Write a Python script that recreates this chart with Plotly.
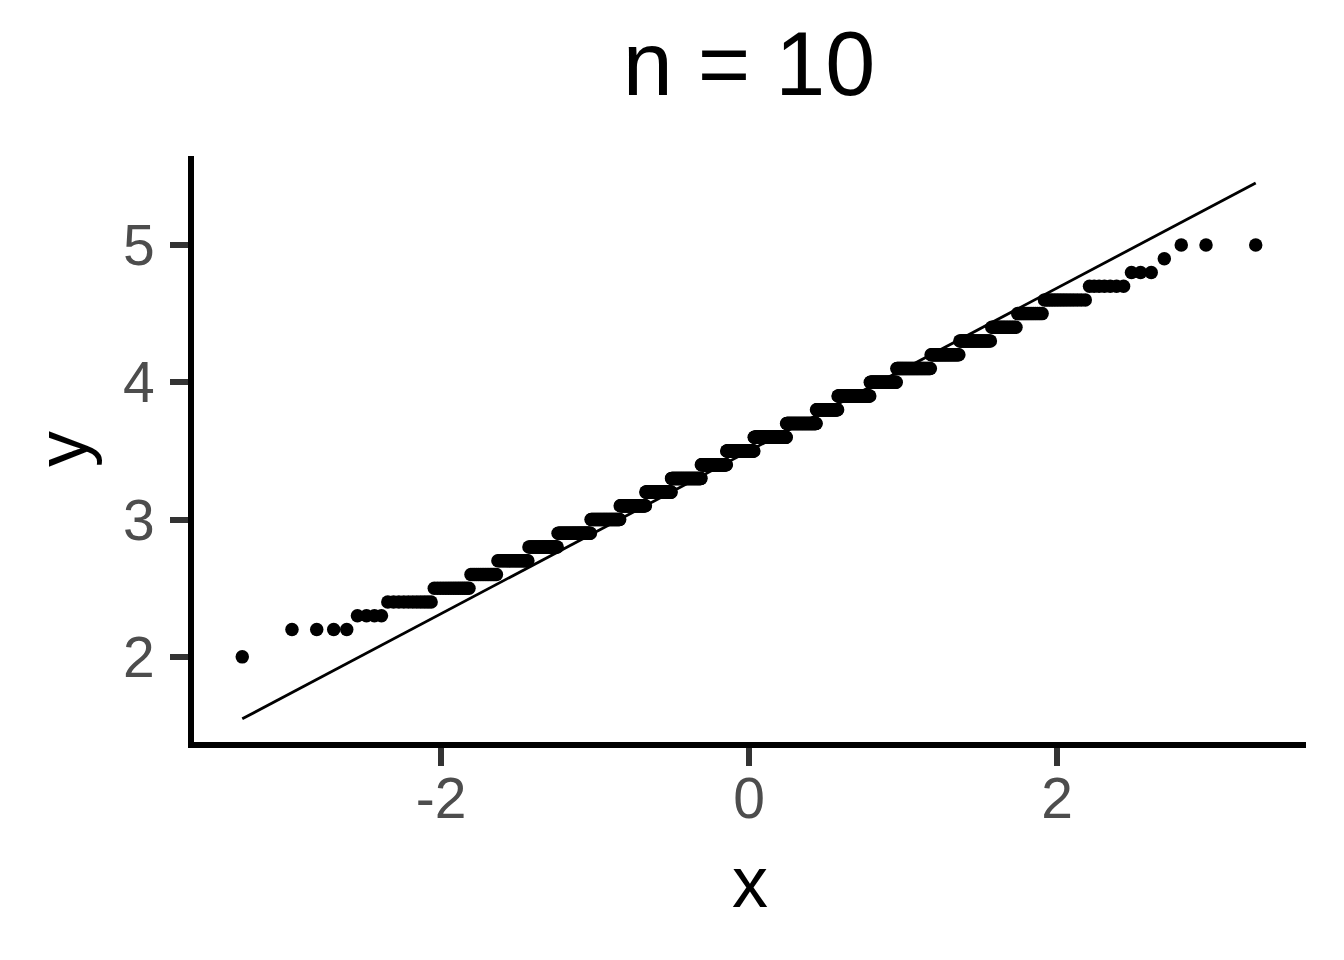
import numpy as np
import plotly.graph_objects as go
from statistics import NormalDist

# Sample-mean levels (y values) and how many of the 1000 sorted sample means fall on each
levels = [2.0, 2.1, 2.2, 2.3, 2.4, 2.5, 2.6, 2.7, 2.8, 2.9, 3.0, 3.1, 3.2, 3.3, 3.4, 3.5,
          3.6, 3.7, 3.8, 3.9, 4.0, 4.1, 4.2, 4.3, 4.4, 4.5, 4.6, 4.7, 4.8, 4.9, 5.0]
counts = [1, 0, 4, 4, 11, 15, 16, 25, 31, 45, 49, 50, 56, 71, 64, 71,
          83, 73, 49, 66, 47, 50, 33, 28, 17, 13, 14, 7, 3, 1, 3]

title_text = "n = 10"
x_ticks = [-2, 0, 2]
y_ticks = [2, 3, 4, 5]

# sample quantiles
y = np.repeat(levels, counts)
n = len(y)
# theoretical normal quantiles, ppoints(n)
nd = NormalDist()
p = (np.arange(1, n + 1) - 0.5) / n
x = np.array([nd.inv_cdf(v) for v in p])

# qq line through the quartiles
q1, q3 = np.quantile(y, [0.25, 0.75])
z1, z3 = nd.inv_cdf(0.25), nd.inv_cdf(0.75)
slope = (q3 - q1) / (z3 - z1)
intercept = q1 - slope * z1
line_x = np.array([x.min(), x.max()])
line_y = intercept + slope * line_x

# axis ranges (plot area slightly inset so the thick axis lines sit on the panel edge)
x_range = [-3.604, 3.617]
y_range = [1.380, 5.648]

fig = go.Figure()
fig.add_trace(go.Scatter(x=x, y=y, mode="markers",
                         marker=dict(color="black", size=13.5, line=dict(width=0)),
                         showlegend=False, hoverinfo="skip"))
fig.add_trace(go.Scatter(x=line_x, y=line_y, mode="lines",
                         line=dict(color="black", width=2.8),
                         showlegend=False, hoverinfo="skip"))

font_family = "Liberation Sans, Arial, sans-serif"
fig.update_layout(
    width=1344, height=960,
    margin=dict(l=186, r=46, t=148, b=226, pad=0),
    paper_bgcolor="white", plot_bgcolor="white",
    font=dict(family=font_family, color="black"),
    title=dict(text=title_text, x=741 / 1344, xanchor="center", y=1 - 55 / 960, yanchor="middle",
               yref="container", font=dict(size=90, color="black", family=font_family)),
)
fig.update_xaxes(
    range=x_range, tickvals=x_ticks, ticktext=[str(v) for v in x_ticks],
    showgrid=False, zeroline=False,
    showline=True, linecolor="black", linewidth=6,
    ticks="outside", ticklen=18, tickwidth=6, tickcolor="#333333",
    ticklabelstandoff=-16,
    tickfont=dict(size=57, color="#4D4D4D", family=font_family),
    title=dict(text="x", font=dict(size=72, color="black", family=font_family), standoff=29),
)
fig.update_yaxes(
    range=y_range, tickvals=y_ticks, ticktext=[str(v) for v in y_ticks],
    showgrid=False, zeroline=False,
    showline=True, linecolor="black", linewidth=6,
    ticks="outside", ticklen=18, tickwidth=6, tickcolor="#333333",
    ticklabelstandoff=4,
    tickfont=dict(size=57, color="#4D4D4D", family=font_family),
    title=dict(text="y", font=dict(size=72, color="black", family=font_family), standoff=14),
)

fig.write_html("out.html")
